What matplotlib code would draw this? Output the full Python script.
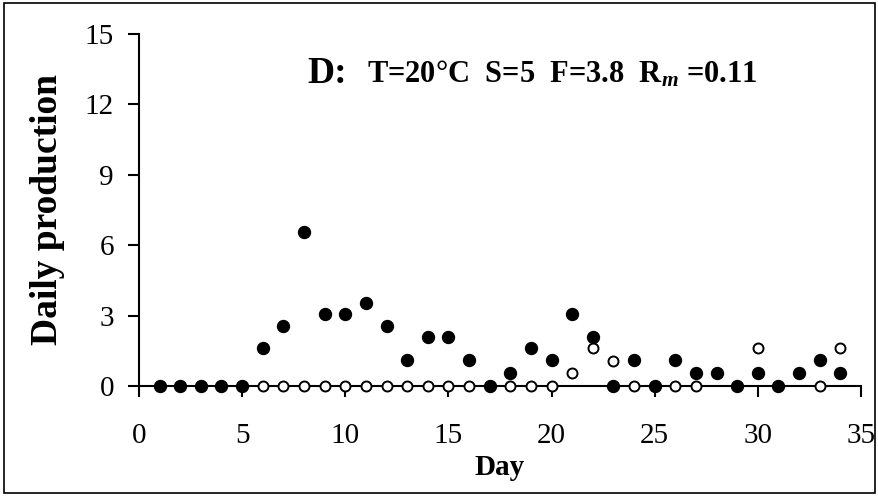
import matplotlib.pyplot as plt
from matplotlib.patches import Rectangle

# data
days_filled = [1, 2, 3, 4, 5, 6, 7, 8, 9, 10, 11, 12, 13, 14, 15, 16, 17,
               18, 19, 20, 21, 22, 23, 24, 25, 26, 27, 28, 29, 30, 31, 32, 33, 34]
prod_filled = [0, 0, 0, 0, 0, 1.6, 2.55, 6.55, 3.05, 3.05, 3.55, 2.55, 1.1, 2.1, 2.1, 1.1, 0,
               0.55, 1.6, 1.1, 3.05, 2.1, 0, 1.1, 0, 1.1, 0.55, 0.55, 0, 0.55, 0, 0.55, 1.1, 0.55]

days_open = [1, 2, 3, 4, 5, 6, 7, 8, 9, 10, 11, 12, 13, 14, 15, 16, 17,
             18, 19, 20, 21, 22, 23, 24, 25, 26, 27, 30, 33, 34]
prod_open = [0, 0, 0, 0, 0, 0, 0, 0, 0, 0, 0, 0, 0, 0, 0, 0, 0,
             0, 0, 0, 0.55, 1.6, 1.05, 0, 0, 0, 0, 1.6, 0, 1.6]

plt.rcParams['font.family'] = ['Liberation Serif', 'DejaVu Serif']
plt.rcParams['mathtext.fontset'] = 'custom'
plt.rcParams['mathtext.rm'] = 'Liberation Serif:bold'
plt.rcParams['mathtext.it'] = 'Liberation Serif:italic:bold'

fig = plt.figure(figsize=(8.79, 4.96), dpi=100)
ax = fig.add_axes([0.1581, 0.2218, 0.8214, 0.7097])

# open circles first, filled on top
ax.plot(days_open, prod_open, linestyle='none', marker='o', markersize=7.2,
        markerfacecolor='white', markeredgecolor='black', markeredgewidth=1.4,
        clip_on=False, zorder=3)
ax.plot(days_filled, prod_filled, linestyle='none', marker='o', markersize=8.6,
        color='black', clip_on=False, zorder=4)

ax.set_xlim(0, 35)
ax.set_ylim(0, 15)
ax.set_xticks(range(0, 36, 5))
ax.set_yticks(range(0, 16, 3))
ax.tick_params(axis='both', direction='out', length=8, width=1.5, labelsize=21, color='black')
ax.tick_params(axis='x', pad=19)
ax.tick_params(axis='y', pad=10)

ax.spines["top"].set_visible(False)
ax.spines["right"].set_visible(False)
ax.spines["left"].set_linewidth(1.5)
ax.spines["bottom"].set_linewidth(1.5)

ax.set_xlabel("Day", fontsize=21, fontweight='bold', labelpad=3)
ax.set_ylabel("Daily production", fontsize=27, fontweight='bold', labelpad=14)

ax.text(0.2327, 0.861, "D:", transform=ax.transAxes, fontsize=27, fontweight='bold',
        va='baseline')
ax.text(0.3158, 0.861, r"T=20°C  S=5  F=3.8  R$_{m}$ =0.11", transform=ax.transAxes,
        fontsize=22, fontweight='bold', va='baseline')

# frame round the whole figure
fig.patches.append(Rectangle((0.004, 0.006), 0.992, 0.988, transform=fig.transFigure,
                             fill=False, edgecolor='black', linewidth=1.2))

fig.savefig("out.png", dpi=100)
